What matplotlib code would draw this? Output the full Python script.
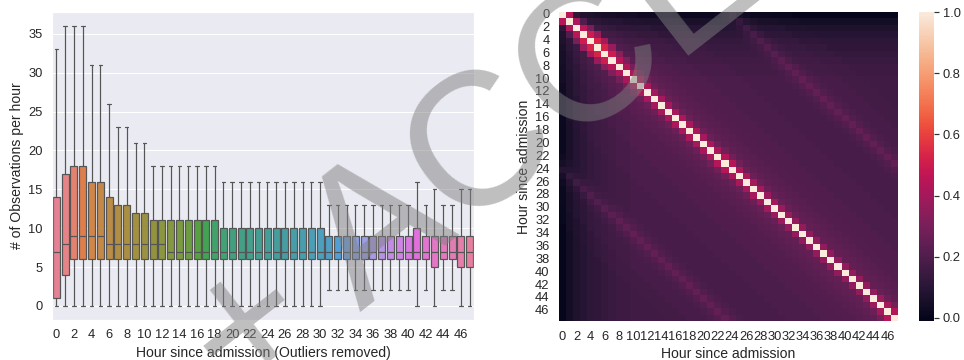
import numpy as np
import pandas as pd
import matplotlib
matplotlib.use("Agg")
import matplotlib.pyplot as plt
import seaborn as sns

hours = list(range(48))

# box plot stats per hour (outliers removed)
whis_low = [0] * 31 + [2] * 10 + [0, 2, 0, 2, 2, 0, 0]
q1 = [1, 4] + [6] * 41 + [5, 6, 6, 5, 5]
median = [7, 8, 9, 9, 9, 9, 8, 8, 8, 8, 8, 8, 8] + [7] * 35
q3 = [14, 17, 18, 18, 16, 16, 14, 13, 13, 12, 12, 11, 11] + [11] * 6 + [10] * 12 \
    + [9] * 10 + [10] + [9] * 6
whis_high = [33, 36, 36, 36, 31, 31, 26, 23, 23, 21, 21] + [18] * 8 + [16] * 12 \
    + [13] * 10 + [16, 13, 15, 13, 13, 15, 15]

# correlation between hours
next_hour_corr = [0.45, 0.42, 0.46, 0.5, 0.53, 0.53, 0.5, 0.45, 0.43, 0.42,
                  0.42, 0.42, 0.4, 0.4, 0.4, 0.4, 0.42, 0.42, 0.42, 0.4,
                  0.42, 0.42, 0.44, 0.44, 0.42, 0.42, 0.4, 0.4, 0.38, 0.4,
                  0.38, 0.38, 0.36, 0.36, 0.36, 0.36, 0.36, 0.36, 0.36, 0.36,
                  0.36, 0.36, 0.36, 0.36, 0.38, 0.4, 0.44]
skip_hour_corr = [0.12, 0.2, 0.3, 0.38, 0.4, 0.38, 0.34, 0.31, 0.29, 0.28,
                  0.28, 0.27, 0.27, 0.27, 0.27, 0.27, 0.27, 0.27, 0.27, 0.27,
                  0.28, 0.28, 0.28, 0.28, 0.27, 0.27, 0.27, 0.27, 0.26, 0.26,
                  0.26, 0.26, 0.25, 0.25, 0.25, 0.25, 0.25, 0.25, 0.25, 0.25,
                  0.25, 0.25, 0.25, 0.26, 0.27, 0.29]
base_level = [0.02, 0.06, 0.09, 0.11, 0.13, 0.14, 0.15, 0.16, 0.17, 0.17,
              0.18, 0.18, 0.18, 0.18, 0.18, 0.18, 0.18, 0.18, 0.18, 0.18,
              0.18, 0.18, 0.18, 0.18, 0.18, 0.18, 0.18, 0.18, 0.18, 0.18,
              0.18, 0.18, 0.18, 0.18, 0.18, 0.18, 0.18, 0.18, 0.18, 0.18,
              0.18, 0.18, 0.18, 0.18, 0.18, 0.18, 0.18, 0.18]
lag_extra = [0, 0, 0, 0.06, 0.05, 0.04, 0.03, 0.03, 0.02, 0.02,
             0.02, 0.01, 0.01, 0.01, 0.01, 0.01, 0, 0, 0, 0,
             0, 0, 0.01, 0.03, 0.07, 0.03, 0.01, 0, 0, 0,
             -0.01, -0.01, -0.01, -0.02, -0.02, -0.02, -0.02, -0.02, -0.02, -0.02,
             -0.02, -0.02, -0.02, -0.02, -0.02, -0.02, -0.02, -0.02]

corr = np.ones((48, 48))
for i in hours:
    for j in hours:
        d = abs(i - j)
        if d == 1:
            corr[i, j] = next_hour_corr[min(i, j)]
        elif d == 2:
            corr[i, j] = skip_hour_corr[min(i, j)]
        elif d > 2:
            corr[i, j] = min(base_level[i], base_level[j]) + lag_extra[d]
corr_df = pd.DataFrame(corr, index=hours, columns=hours)

sns.set_theme(font_scale=1.165)
plt.rcParams['font.family'] = ['Liberation Sans', 'DejaVu Sans']

fig = plt.figure(figsize=(964 / 72, 360 / 72), dpi=72)
ax1 = fig.add_axes([52 / 964, 40 / 360, 422 / 964, 308 / 360])
ax2 = fig.add_axes([559 / 964, 39 / 360, 339 / 964, 309 / 360])
cax = fig.add_axes([919 / 964, 39 / 360, 15 / 964, 309 / 360])

stats = []
for h in hours:
    stats.append(dict(whislo=whis_low[h], q1=q1[h], med=median[h], q3=q3[h],
                      whishi=whis_high[h], fliers=[]))

line_c = "#555555"
bp = ax1.bxp(stats, positions=hours, widths=0.8, patch_artist=True, showfliers=False,
             boxprops=dict(edgecolor=line_c, linewidth=1.2),
             medianprops=dict(color=line_c, linewidth=1.2),
             whiskerprops=dict(color=line_c, linewidth=1.2),
             capprops=dict(color=line_c, linewidth=1.2))
palette = sns.color_palette("husl", 48)
for patch, c in zip(bp['boxes'], palette):
    patch.set_facecolor(sns.desaturate(c, 0.75))

ax1.set_xlim(-0.5, 47.5)
ax1.set_ylim(-1.8, 37.8)
ax1.set_xticks(hours[::2])
ax1.set_xticklabels([str(h) for h in hours[::2]])
ax1.set_yticks([0, 5, 10, 15, 20, 25, 30, 35])
ax1.xaxis.grid(False)
ax1.set_xlabel("Hour since admission (Outliers removed)")
ax1.set_ylabel("# of Observations per hour")

sns.heatmap(corr_df, ax=ax2, cbar_ax=cax, vmin=-0.01, vmax=1.0,
            xticklabels=2, yticklabels=2)
ax2.tick_params(axis='x', labelrotation=0)
ax2.tick_params(axis='y', labelrotation=0)
ax2.set_xlabel("Hour since admission")
ax2.set_ylabel("Hour since admission")
cax.set_yticks([0.0, 0.2, 0.4, 0.6, 0.8, 1.0])
cax.tick_params(axis='y', right=True, length=5, width=1.2, color='#333333')

fig.text(240 / 964, -46 / 360, "+ ACCEPTED", fontsize=190, rotation=38,
         rotation_mode='anchor', ha='left', va='baseline', color='gray', alpha=0.5)

fig.savefig("out.png", dpi=72)
